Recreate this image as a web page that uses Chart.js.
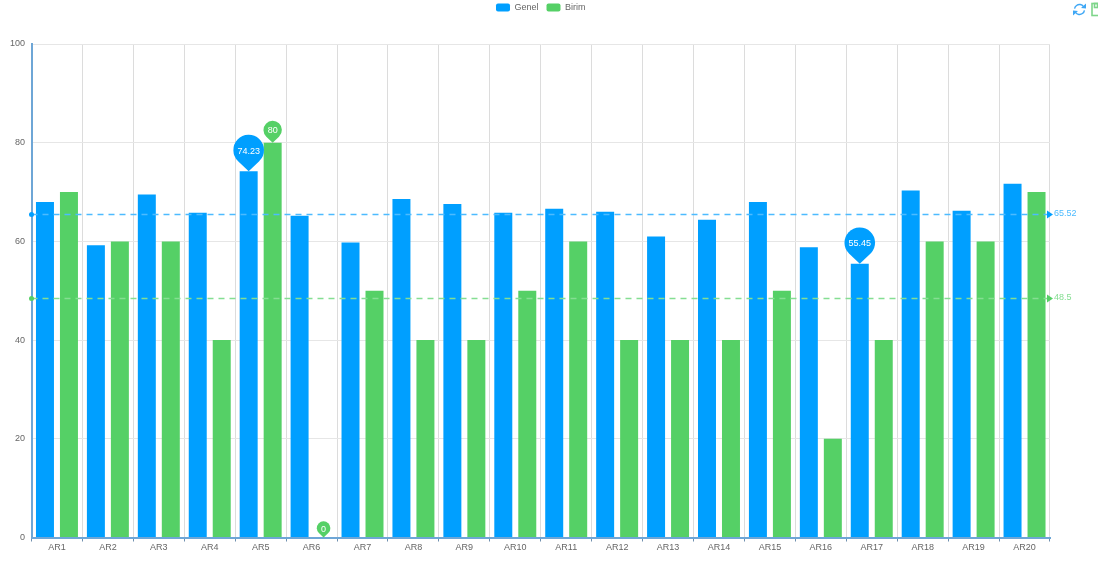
<!DOCTYPE html>
<html>
<head>
<meta charset="utf-8">
<title>Genel / Birim</title>
<script src="https://cdn.jsdelivr.net/npm/chart.js@4/dist/chart.umd.min.js"></script>
<style>
  html, body { margin: 0; padding: 0; background: #fff; }
  #wrap { width: 1098px; height: 561px; }
</style>
</head>
<body>
<div id="wrap"><canvas id="chart" width="1098" height="561"></canvas></div>
<script>
const categories = ['AR1','AR2','AR3','AR4','AR5','AR6','AR7','AR8','AR9','AR10','AR11','AR12','AR13','AR14','AR15','AR16','AR17','AR18','AR19','AR20'];
const genel = [68, 59.2, 69.5, 65.8, 74.23, 65.2, 59.8, 68.6, 67.6, 65.8, 66.6, 66, 61, 64.4, 68, 58.8, 55.45, 70.3, 66.2, 71.7];
const birim = [70, 60, 60, 40, 80, 0, 50, 40, 40, 50, 60, 40, 40, 40, 50, 20, 40, 60, 60, 70];
const meanValues = [65.52, 48.5];
const yTicks = [0, 20, 40, 60, 80, 100];
// min and max pins, as [series, category index]
const pinned = [[0, 4], [0, 16], [1, 4], [1, 5]];

const BLUE = '#009FFF';
const GREEN = '#55D066';
const LINE_COLORS = ['#4DBBFF', '#85DE92'];
const PIN_RADIUS = { '0-4': 15.3, '0-16': 15.3, '1-4': 9.2, '1-5': 6.8 };
const FONT = '"Liberation Sans", Arial, sans-serif';

// Echarts style extras: mean lines, value pins and the toolbox icons
const extras = {
  id: 'extras',
  beforeInit(chart) {
    // fixed room for the legend so the plot stays where it should
    const fit = chart.legend.fit;
    chart.legend.fit = function () {
      fit.call(this);
      this.height = 44;
    };
  },
  afterLayout(chart) {
    chart.legend.top = -5;
  },
  afterDatasetsDraw(chart) {
    const ctx = chart.ctx;
    const area = chart.chartArea;
    const y = chart.scales.y;

    meanValues.forEach((value, i) => {
      const py = Math.round(y.getPixelForValue(value)) + 0.5;
      const solid = i == 0 ? BLUE : GREEN;
      ctx.save();
      ctx.strokeStyle = LINE_COLORS[i];
      ctx.lineWidth = 1.5;
      ctx.setLineDash([6, 5]);
      ctx.beginPath();
      ctx.moveTo(area.left, py);
      ctx.lineTo(area.right, py);
      ctx.stroke();
      ctx.setLineDash([]);
      ctx.fillStyle = solid;
      ctx.beginPath();
      ctx.arc(area.left, py, 2.5, 0, Math.PI * 2);
      ctx.fill();
      ctx.beginPath();
      ctx.moveTo(area.right - 3, py - 4);
      ctx.lineTo(area.right + 3, py);
      ctx.lineTo(area.right - 3, py + 4);
      ctx.closePath();
      ctx.fill();
      ctx.fillStyle = LINE_COLORS[i];
      ctx.font = '9px ' + FONT;
      ctx.textAlign = 'left';
      ctx.textBaseline = 'middle';
      ctx.fillText(String(value), area.right + 4, py - 0.5);
      ctx.restore();
    });

    pinned.forEach(([series, index]) => {
      const bar = chart.getDatasetMeta(series).data[index];
      const value = chart.data.datasets[series].data[index];
      const r = PIN_RADIUS[series + '-' + index];
      const tipY = bar.y;
      const cy = tipY - r * 1.38;
      // the sides of the pin leave the circle on its tangents
      const side = Math.acos(1 / 1.38);
      const start = Math.PI / 2 + side;
      const end = Math.PI / 2 - side;
      ctx.save();
      ctx.fillStyle = series == 0 ? BLUE : GREEN;
      ctx.beginPath();
      ctx.arc(bar.x, cy, r, start, end);
      ctx.lineTo(bar.x, tipY);
      ctx.closePath();
      ctx.fill();
      ctx.fillStyle = '#fff';
      ctx.font = '9px ' + FONT;
      ctx.textAlign = 'center';
      ctx.textBaseline = 'middle';
      ctx.fillText(String(value), bar.x, cy + 1);
      ctx.restore();
    });
  },
  afterDraw(chart) {
    const ctx = chart.ctx;
    // refresh icon
    ctx.save();
    ctx.strokeStyle = '#3FA7F5';
    ctx.fillStyle = '#3FA7F5';
    ctx.lineWidth = 1.4;
    ctx.beginPath();
    ctx.arc(1079.5, 9.5, 5, Math.PI * 1.05, Math.PI * 1.8);
    ctx.stroke();
    ctx.beginPath();
    ctx.arc(1079.5, 9.5, 5, Math.PI * 0.05, Math.PI * 0.8);
    ctx.stroke();
    ctx.beginPath();
    ctx.moveTo(1086, 3.5);
    ctx.lineTo(1086, 8.5);
    ctx.lineTo(1081, 8);
    ctx.closePath();
    ctx.fill();
    ctx.beginPath();
    ctx.moveTo(1073, 15.5);
    ctx.lineTo(1073, 10.5);
    ctx.lineTo(1078, 11);
    ctx.closePath();
    ctx.fill();
    // save icon, cut off by the edge of the page
    ctx.strokeStyle = '#7ED58A';
    ctx.lineWidth = 1.6;
    ctx.strokeRect(1092, 3.5, 10, 12);
    ctx.strokeRect(1094.5, 3.5, 3, 4);
    ctx.restore();
  }
};

new Chart(document.getElementById('chart'), {
  type: 'bar',
  data: {
    labels: categories,
    datasets: [
      { label: 'Genel', data: genel, backgroundColor: BLUE, categoryPercentage: 0.942, barPercentage: 0.75 },
      { label: 'Birim', data: birim, backgroundColor: GREEN, categoryPercentage: 0.942, barPercentage: 0.75 }
    ]
  },
  options: {
    responsive: false,
    animation: false,
    layout: { padding: { left: 0, right: 48, top: 0, bottom: 0 } },
    plugins: {
      tooltip: { enabled: false },
      legend: {
        position: 'top',
        fullSize: false,
        labels: {
          boxWidth: 14,
          boxHeight: 8,
          padding: 8,
          useBorderRadius: true,
          borderRadius: 2,
          color: '#666',
          font: { family: FONT, size: 9 }
        }
      }
    },
    scales: {
      x: {
        afterFit(scale) { scale.height = 23.5; },
        grid: { color: '#DCDCDC', lineWidth: 1, tickColor: '#6f8fae', tickLength: 4, offset: true },
        border: { color: '#6EA6D6', width: 2 },
        ticks: {
          color: '#666',
          padding: 1,
          maxRotation: 0,
          autoSkip: false,
          font: { family: FONT, size: 9 }
        }
      },
      y: {
        min: 0,
        max: 100,
        afterFit(scale) { scale.width = 31.5; },
        afterBuildTicks(scale) { scale.ticks = yTicks.map(v => ({ value: v })); },
        grid: { color: '#E6E6E6', lineWidth: 1, drawTicks: false },
        border: { color: '#6EA6D6', width: 2 },
        ticks: {
          color: '#666',
          padding: 6.5,
          font: { family: FONT, size: 9 }
        }
      }
    }
  },
  plugins: [extras]
});
</script>
</body>
</html>
